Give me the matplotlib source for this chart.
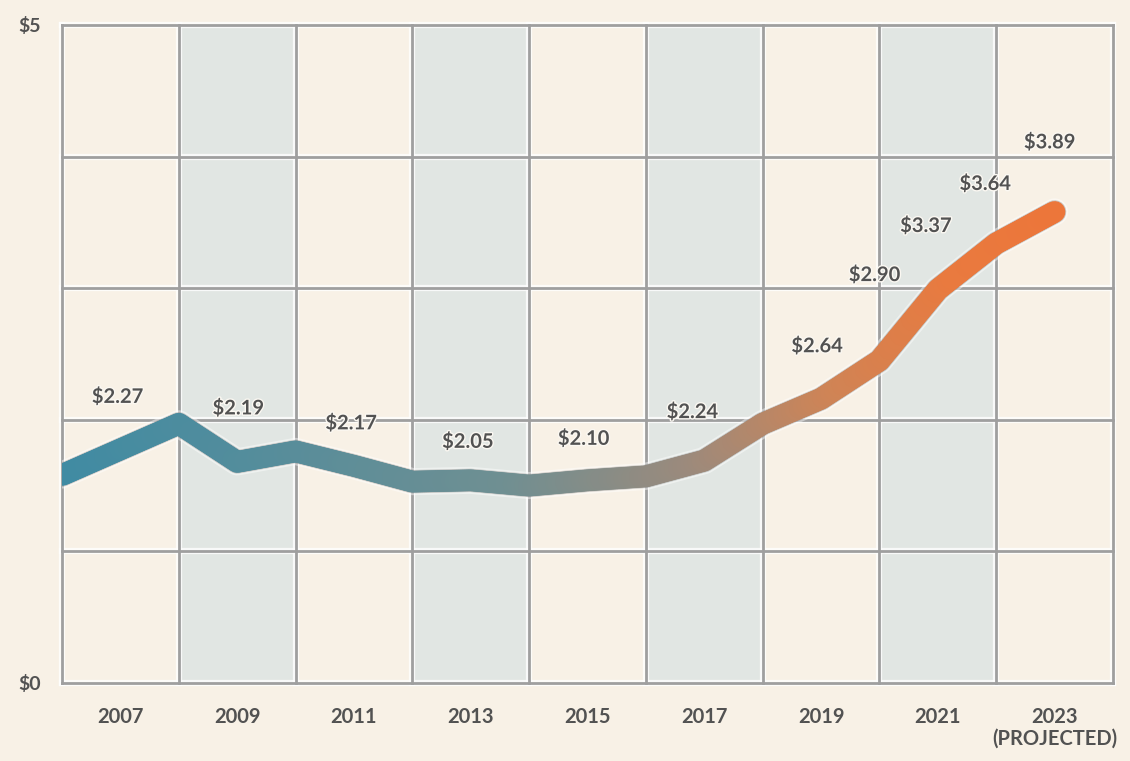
import numpy as np
import matplotlib
matplotlib.use("Agg")
import matplotlib.pyplot as plt
from matplotlib.collections import LineCollection
from matplotlib.colors import LinearSegmentedColormap
import matplotlib.patheffects as pe

# ---------------- data ----------------
years = [2006, 2007, 2008, 2009, 2010, 2011, 2012, 2013, 2014,
         2015, 2016, 2017, 2018, 2019, 2020, 2021, 2022, 2023]
line_values = [1.58, 1.775, 1.97, 1.68, 1.76, 1.65, 1.53, 1.54, 1.50,
               1.54, 1.57, 1.69, 1.97, 2.16, 2.45, 2.99, 3.34, 3.58]

label_years = [2007, 2009, 2011, 2013, 2015, 2017, 2019, 2020, 2021, 2022, 2023]
label_values = [2.27, 2.19, 2.17, 2.05, 2.10, 2.24, 2.64, 2.90, 3.37, 3.64, 3.89]

tick_years = [2007, 2009, 2011, 2013, 2015, 2017, 2019, 2021, 2023]
tick_labels = ["2007", "2009", "2011", "2013", "2015", "2017", "2019", "2021",
               "2023\n(PROJECTED)"]
y_ticks = [0, 5]
y_tick_labels = [r"\$0", r"\$5"]

# ---------------- style ----------------
BG = "#f8f1e6"
SHADE = "#e1e6e3"
GRID = "#9f9f9f"
TEXT = "#525252"
label_offsets_px = [(-3, 53), (1, 54), (-3, 43), (-3, 39), (-4, 42), (-12, 49),
                    (-4, 53), (-5, 86), (-12, 64), (-11, 60), (-5, 70)]

W, H = 1130, 761
fig = plt.figure(figsize=(W / 100, H / 100), dpi=100, facecolor=BG)
ax = fig.add_axes([62 / W, (H - 683) / H, (1113 - 62) / W, (683 - 25) / H])
ax.set_facecolor(BG)
ax.set_xlim(2006, 2024)
ax.set_ylim(0, 5)
for s in ax.spines.values():
    s.set_visible(False)

# shaded columns
for x0 in [2008, 2012, 2016, 2020]:
    ax.axvspan(x0, x0 + 2, color=SHADE, zorder=0, lw=0)

# grid with faint white halo
for xv in range(2006, 2025, 2):
    ax.axvline(xv, color="white", lw=4.5, alpha=0.8, zorder=1, clip_on=False)
for yv in range(0, 6):
    ax.axhline(yv, color="white", lw=4.5, alpha=0.8, zorder=1, clip_on=False)
for xv in range(2006, 2025, 2):
    ax.axvline(xv, color=GRID, lw=2.0, zorder=2, clip_on=False)
for yv in range(0, 6):
    ax.axhline(yv, color=GRID, lw=2.0, zorder=2, clip_on=False)

# gradient line
cmap = LinearSegmentedColormap.from_list(
    "g", [(0.0, "#3f8ba3"), (0.45, "#6f8f92"), (0.64, "#9c8a7c"),
          (0.78, "#cf8456"), (0.9, "#e97a3f"), (1.0, "#ec763a")])
xs, ys = [], []
for i in range(len(years) - 1):
    t = np.linspace(0, 1, 30, endpoint=False)
    xs.extend(years[i] + (years[i + 1] - years[i]) * t)
    ys.extend(line_values[i] + (line_values[i + 1] - line_values[i]) * t)
xs.append(years[-1]); ys.append(line_values[-1])
xs = np.array(xs); ys = np.array(ys)
pts = np.column_stack([xs, ys]).reshape(-1, 1, 2)
segs = np.concatenate([pts[:-1], pts[1:]], axis=1)
norm_x = (xs[:-1] - years[0]) / (years[-1] - years[0])

ax.plot(years, line_values, color="white", lw=19.5, alpha=0.45,
        solid_capstyle="round", solid_joinstyle="round", zorder=3)
ax.plot(years, line_values, color="#5a5a5a", lw=16.8, alpha=0.3,
        solid_capstyle="round", solid_joinstyle="round", zorder=4)
lc = LineCollection(segs, colors=cmap(norm_x), linewidths=15.5,
                    capstyle="round", joinstyle="round", zorder=5)
ax.add_collection(lc)

# value labels
line_at = dict(zip(years, line_values))
for yr, val, (dx, dy) in zip(label_years, label_values, label_offsets_px):
    ax.annotate(r"\$" + f"{val:.2f}", xy=(yr, line_at[yr]),
                xytext=(dx, dy), textcoords="offset pixels",
                ha="center", va="center", fontsize=14.5, color=TEXT,
                family="Lato", fontweight="bold", zorder=6,
                path_effects=[pe.withStroke(linewidth=2, foreground="#fbf8f2")])

ax.set_xticks(tick_years)
ax.set_xticklabels(tick_labels, fontsize=14.5, color=TEXT, family="Lato",
                   fontweight="bold", linespacing=1.15, va="top")
ax.set_yticks(y_ticks)
ax.set_yticklabels(y_tick_labels, fontsize=14, color=TEXT, family="Lato",
                   fontweight="bold")
ax.tick_params(axis="x", length=0, pad=17)
ax.tick_params(axis="y", length=0, pad=15)

fig.savefig("out.png", dpi=100, facecolor=BG)
